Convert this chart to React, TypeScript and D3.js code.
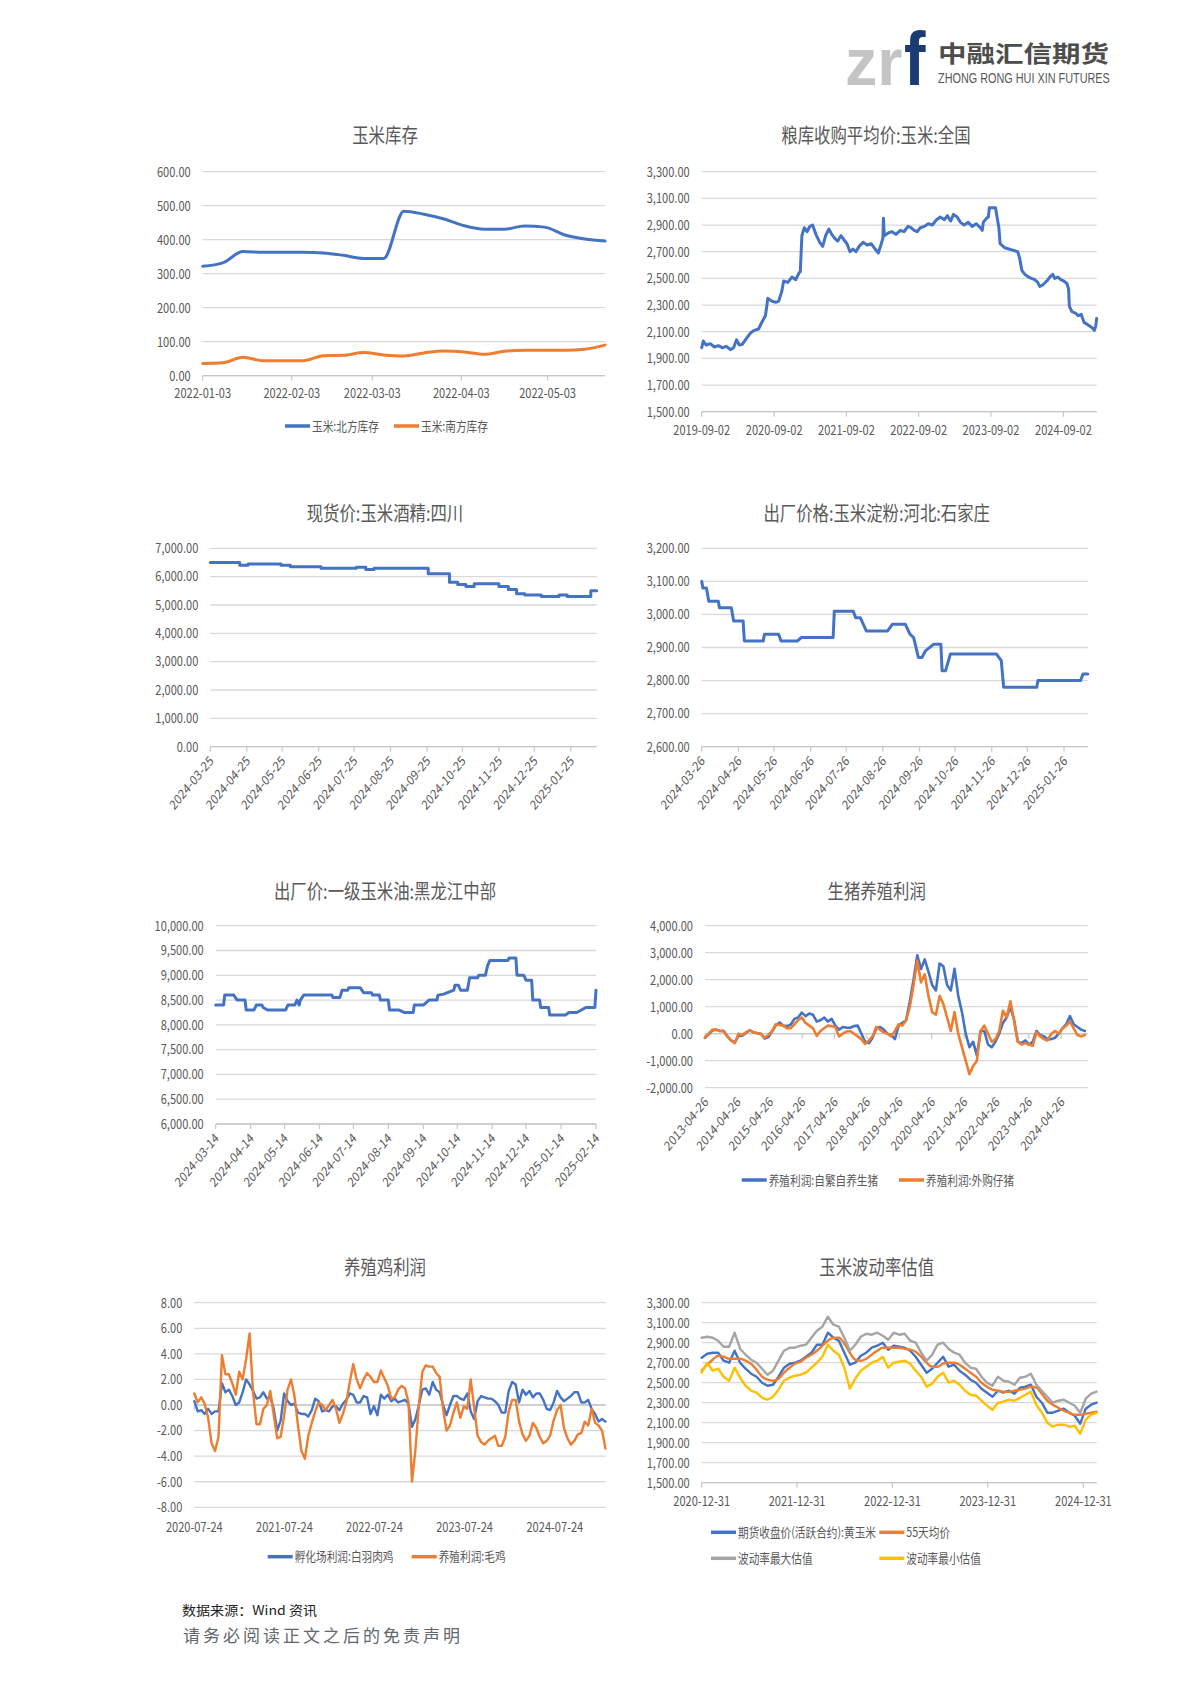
import * as React from 'react';
import * as d3 from 'd3';

// ---- data: 玉米库存 (weekly from 2022-01-03)
const stockStart = '2022-01-03';
const northStock = [322, 332, 365, 363, 363, 363, 361, 354, 345, 345, 484, 475, 461, 441, 431, 431, 440, 437, 414, 402, 396];
const southStock = [36, 38, 54, 44, 44, 44, 59, 60, 68, 61, 58, 67, 73, 70, 63, 72, 75, 75, 75, 78, 90];
const stockTicks = ['2022-01-03', '2022-02-03', '2022-03-03', '2022-04-03', '2022-05-03'];

// ---- 粮库收购平均价:玉米:全国
const grainPrice: [string, number][] = [
  ['2019-09-02', 1980], ['2019-09-10', 2030], ['2019-09-25', 2000], ['2019-10-15', 2010], ['2019-11-05', 1985],
  ['2019-11-25', 1995], ['2019-12-15', 1980], ['2020-01-05', 1990], ['2020-01-25', 1965], ['2020-02-10', 1980],
  ['2020-02-25', 2040], ['2020-03-10', 2000], ['2020-03-25', 2005], ['2020-04-15', 2050], ['2020-05-05', 2090],
  ['2020-05-25', 2110], ['2020-06-15', 2120], ['2020-07-05', 2180], ['2020-07-20', 2220], ['2020-08-01', 2350],
  ['2020-08-20', 2330], ['2020-09-10', 2320], ['2020-09-25', 2330], ['2020-10-10', 2400], ['2020-10-20', 2480],
  ['2020-11-10', 2470], ['2020-12-01', 2510], ['2020-12-20', 2490], ['2021-01-05', 2540], ['2021-01-12', 2550],
  ['2021-01-20', 2820], ['2021-02-01', 2880], ['2021-02-15', 2850], ['2021-03-01', 2890], ['2021-03-15', 2900],
  ['2021-04-01', 2830], ['2021-04-20', 2770], ['2021-05-05', 2740], ['2021-05-20', 2820], ['2021-06-05', 2870],
  ['2021-06-20', 2830], ['2021-07-05', 2800], ['2021-07-20', 2780], ['2021-08-05', 2820], ['2021-08-20', 2790],
  ['2021-09-05', 2760], ['2021-09-20', 2700], ['2021-10-05', 2720], ['2021-10-20', 2700], ['2021-11-05', 2740],
  ['2021-11-25', 2770], ['2021-12-15', 2750], ['2022-01-05', 2760], ['2022-01-25', 2720], ['2022-02-10', 2690],
  ['2022-02-25', 2760], ['2022-03-05', 2800], ['2022-03-08', 2950], ['2022-03-12', 2820], ['2022-04-01', 2840],
  ['2022-04-20', 2850], ['2022-05-10', 2830], ['2022-06-01', 2860], ['2022-06-20', 2850], ['2022-07-10', 2890],
  ['2022-07-25', 2880], ['2022-08-10', 2860], ['2022-08-25', 2850], ['2022-09-10', 2880], ['2022-10-01', 2890],
  ['2022-10-20', 2910], ['2022-11-10', 2900], ['2022-12-01', 2940], ['2022-12-20', 2960], ['2023-01-10', 2940],
  ['2023-01-25', 2970], ['2023-02-10', 2930], ['2023-02-25', 2980], ['2023-03-15', 2960], ['2023-04-01', 2920],
  ['2023-04-20', 2900], ['2023-05-10', 2920], ['2023-05-30', 2890], ['2023-06-20', 2910], ['2023-07-10', 2880],
  ['2023-07-20', 2860], ['2023-07-25', 2920], ['2023-08-10', 2950], ['2023-08-20', 2960], ['2023-08-25', 3030],
  ['2023-09-25', 3030], ['2023-10-05', 2940], ['2023-10-12', 2880], ['2023-10-18', 2760], ['2023-11-10', 2730],
  ['2023-12-01', 2720], ['2023-12-25', 2710], ['2024-01-15', 2700], ['2024-01-25', 2650], ['2024-02-05', 2560],
  ['2024-02-20', 2530], ['2024-03-10', 2510], ['2024-03-25', 2500], ['2024-04-10', 2490], ['2024-04-25', 2470],
  ['2024-05-05', 2440], ['2024-05-20', 2450], ['2024-06-10', 2480], ['2024-06-25', 2510], ['2024-07-10', 2530],
  ['2024-07-20', 2500], ['2024-08-05', 2510], ['2024-08-20', 2490], ['2024-09-05', 2480], ['2024-09-20', 2460],
  ['2024-09-28', 2420], ['2024-10-02', 2290], ['2024-10-15', 2250], ['2024-11-01', 2240], ['2024-11-15', 2220],
  ['2024-12-01', 2230], ['2024-12-15', 2170], ['2025-01-05', 2150], ['2025-01-25', 2130], ['2025-02-05', 2110],
  ['2025-02-12', 2140], ['2025-02-17', 2200],
];
const grainTicks = ['2019-09-02', '2020-09-02', '2021-09-02', '2022-09-02', '2023-09-02', '2024-09-02'];

// ---- 现货价:玉米酒精:四川 (step changes)
const alcoholPrice: [string, number][] = [
  ['2024-03-25', 6500], ['2024-04-19', 6400], ['2024-04-26', 6450], ['2024-05-24', 6400], ['2024-06-01', 6350],
  ['2024-06-27', 6300], ['2024-07-27', 6330], ['2024-08-04', 6250], ['2024-08-11', 6300], ['2024-09-26', 6100],
  ['2024-10-14', 5800], ['2024-10-21', 5720], ['2024-10-28', 5650], ['2024-11-04', 5750], ['2024-11-25', 5650],
  ['2024-12-03', 5550], ['2024-12-10', 5400], ['2024-12-17', 5350], ['2024-12-31', 5300], ['2025-01-15', 5350],
  ['2025-01-22', 5300], ['2025-02-11', 5500], ['2025-02-16', 5500],
];
const alcoholTicks = ['2024-03-25', '2024-04-25', '2024-05-25', '2024-06-25', '2024-07-25', '2024-08-25',
  '2024-09-25', '2024-10-25', '2024-11-25', '2024-12-25', '2025-01-25'];

// ---- 出厂价格:玉米淀粉:河北:石家庄
const starchPrice: [string, number][] = [
  ['2024-03-26', 3100], ['2024-03-27', 3080], ['2024-03-30', 3080], ['2024-04-01', 3040], ['2024-04-09', 3040],
  ['2024-04-10', 3020], ['2024-04-20', 3020], ['2024-04-22', 2980], ['2024-04-30', 2980], ['2024-05-01', 2920],
  ['2024-05-17', 2920], ['2024-05-18', 2940], ['2024-05-30', 2940], ['2024-06-01', 2920], ['2024-06-15', 2920],
  ['2024-06-18', 2930], ['2024-07-15', 2930], ['2024-07-16', 3010], ['2024-08-01', 3010], ['2024-08-03', 2990],
  ['2024-08-07', 2990], ['2024-08-12', 2950], ['2024-08-30', 2950], ['2024-09-03', 2970], ['2024-09-14', 2970],
  ['2024-09-18', 2940], ['2024-09-21', 2930], ['2024-09-25', 2870], ['2024-09-28', 2870], ['2024-10-01', 2890],
  ['2024-10-08', 2910], ['2024-10-14', 2910], ['2024-10-15', 2830], ['2024-10-18', 2830], ['2024-10-22', 2880],
  ['2024-11-30', 2880], ['2024-12-04', 2860], ['2024-12-06', 2780], ['2025-01-03', 2780], ['2025-01-04', 2800],
  ['2025-02-09', 2800], ['2025-02-11', 2820], ['2025-02-15', 2820],
];
const starchTicks = ['2024-03-26', '2024-04-26', '2024-05-26', '2024-06-26', '2024-07-26', '2024-08-26',
  '2024-09-26', '2024-10-26', '2024-11-26', '2024-12-26', '2025-01-26'];

// ---- 出厂价:一级玉米油:黑龙江中部
const oilPrice: [string, number][] = [
  ['2024-03-14', 8400], ['2024-03-21', 8400], ['2024-03-22', 8600], ['2024-03-30', 8600], ['2024-04-02', 8500],
  ['2024-04-09', 8500], ['2024-04-10', 8300], ['2024-04-17', 8300], ['2024-04-19', 8400], ['2024-04-24', 8400],
  ['2024-04-25', 8350], ['2024-04-29', 8300], ['2024-05-15', 8300], ['2024-05-17', 8400], ['2024-05-23', 8400],
  ['2024-05-25', 8500], ['2024-05-27', 8400], ['2024-05-28', 8500], ['2024-05-31', 8600], ['2024-06-25', 8600],
  ['2024-06-26', 8550], ['2024-07-02', 8550], ['2024-07-04', 8700], ['2024-07-09', 8700], ['2024-07-10', 8750],
  ['2024-07-20', 8750], ['2024-07-23', 8650], ['2024-07-30', 8650], ['2024-07-31', 8600], ['2024-08-06', 8600],
  ['2024-08-07', 8500], ['2024-08-14', 8500], ['2024-08-15', 8300], ['2024-08-23', 8300], ['2024-08-28', 8250],
  ['2024-09-05', 8250], ['2024-09-06', 8400], ['2024-09-14', 8400], ['2024-09-19', 8500], ['2024-09-26', 8500],
  ['2024-09-27', 8600], ['2024-10-02', 8620], ['2024-10-11', 8700], ['2024-10-12', 8800], ['2024-10-15', 8800],
  ['2024-10-17', 8700], ['2024-10-23', 8700], ['2024-10-25', 8950], ['2024-11-01', 8950], ['2024-11-02', 9000],
  ['2024-11-08', 9000], ['2024-11-10', 9200], ['2024-11-12', 9300], ['2024-11-28', 9300], ['2024-11-29', 9350],
  ['2024-12-05', 9350], ['2024-12-06', 9000], ['2024-12-12', 9000], ['2024-12-14', 8900], ['2024-12-19', 8900],
  ['2024-12-20', 8500], ['2024-12-26', 8500], ['2024-12-27', 8350], ['2025-01-03', 8350], ['2025-01-04', 8200],
  ['2025-01-18', 8200], ['2025-01-21', 8250], ['2025-01-28', 8250], ['2025-02-05', 8350], ['2025-02-13', 8350],
  ['2025-02-14', 8700],
];
const oilTicks = ['2024-03-14', '2024-04-14', '2024-05-14', '2024-06-14', '2024-07-14', '2024-08-14',
  '2024-09-14', '2024-10-14', '2024-11-14', '2024-12-14', '2025-01-14', '2025-02-14'];

// ---- 生猪养殖利润 (every 42 days from 2013-04-26)
const hogStart = '2013-04-26';
const hogSelf = [
  -150, -20, 120, 150, 100, 110, -100, -250, -320, -80,
  -70, 30, 130, 50, 20, 0, -180, -120, 80, 300,
  420, 300, 280, 330, 550, 600, 780, 650, 750, 700,
  450, 500, 600, 450, 550, 300, 150, 250, 220, 220,
  280, 300, 0, -300, -350, -150, 200, 250, 150, 0,
  -50, -200, 300, 400, 500, 1200, 2000, 2900, 2400, 2750,
  2300, 1800, 1600, 2600, 2500, 1800, 1600, 2400, 1400, 800,
  0, -500, -300, -800, 100, 100, -400, -500, -300, 0,
  400, 600, 1000, 500, -300, -350, -250, -400, -300, 100,
  -50, -100, -200, -200, -150, 0, 200, 350, 650, 350,
  250, 150, 100,
];
const hogBought = [
  -150, 0, 150, 150, 100, 100, -100, -250, -350, 0,
  -50, 50, 120, 50, 20, 0, -150, -50, 100, 350,
  320, 300, 200, 200, 350, 500, 600, 400, 300, 200,
  -80, 100, 200, 300, 280, 250, -100, 0, 80, 100,
  0, -100, -200, -380, -250, -100, 250, 150, 50, 0,
  -100, 100, 350, 300, 500, 1000, 1800, 2700, 1900, 2200,
  1400, 800, 700, 1400, 1100, 600, 100, 800, 0, -500,
  -1000, -1500, -1200, -1000, 100, 300, 0, -300, -200, 100,
  850, 600, 1200, 500, -300, -400, -350, -400, -450, 50,
  -100, -200, -250, 0, 100, 0, 200, 300, 450, 200,
  -50, -100, -50,
];
const hogTicks = ['2013-04-26', '2014-04-26', '2015-04-26', '2016-04-26', '2017-04-26', '2018-04-26',
  '2019-04-26', '2020-04-26', '2021-04-26', '2022-04-26', '2023-04-26', '2024-04-26'];

// ---- 养殖鸡利润 (every 14 days from 2020-07-24)
const chickStart = '2020-07-24';
const hatcheryProfit = [
  0.3, -0.5, -0.4, -0.7, -0.3, -0.7, -0.5, -0.5, 1.7, 1.0,
  1.2, 0.7, 0.0, 0.2, 1.0, 2.0, 1.6, 1.1, 0.5, 0.6,
  1.0, 0.5, 0.6, -0.3, -2.0, -1.2, 0.9, 0.3, 0.0, 0.1,
  -0.6, -0.7, -0.7, -0.9, -0.4, 0.5, 0.3, -0.5, -0.4, -0.5,
  -0.1, -0.1, -0.4, 0.1, 0.4, 0.9, 0.8, 0.2, 0.2, 0.7,
  0.6, -0.7, -0.1, -0.8, 0.8, 0.5, 0.8, 0.3, 0.5, 0.2,
  0.3, 0.4, 0.1, -1.7, -1.1, 0.0, 1.2, 1.3, 0.8, 1.8,
  1.2, 1.0, 0.0, -0.8, 0.0, 0.7, 0.7, 0.5, 0.4, 0.9,
  -0.5, -1.1, 0.3, 0.7, 0.6, 0.5, 0.5, 0.3, 0.0, -0.6,
  -0.6, 1.1, 1.8, 1.6, 0.2, 1.2, 0.8, 1.1, 0.6, 0.9,
  0.9, 0.4, -0.3, -0.4, 0.2, 1.1, 0.6, 0.3, 0.5, 0.7,
  1.0, 1.0, 0.2, 0.2, 0.4, -0.3, -0.7, -1.3, -1.1, -1.3,
];
const broilerProfit = [
  0.9, 0.2, 0.6, 0.1, -1.0, -3.0, -3.6, -2.5, 3.9, 2.4,
  2.4, 1.7, 0.8, 2.6, 2.0, 3.6, 5.6, 1.0, -1.5, -1.5,
  -0.3, 0.0, 1.1, -0.8, -2.6, -2.5, -0.8, 1.2, 2.0, 0.7,
  -1.6, -3.6, -4.2, -2.4, -1.4, -0.5, 0.2, 0.0, -0.4, 0.0,
  0.4, -0.3, -1.4, -0.7, 0.2, 1.8, 3.2, 2.0, 1.3, 2.0,
  2.5, 2.2, 1.8, 1.8, 2.7, 2.1, 1.5, 0.5, 0.6, 1.2,
  1.5, 1.3, 0.2, -6.0, -3.5, 0.0, 2.6, 3.1, 3.0, 3.0,
  2.5, 2.2, -0.3, -2.0, -1.6, -0.6, 0.2, -1.0, -0.1, -0.3,
  2.0, -0.2, -2.4, -2.9, -3.1, -2.8, -2.6, -2.4, -3.2, -3.2,
  -2.5, -0.5, 0.4, 0.4, -1.3, -2.3, -2.8, -2.4, -1.4, -1.8,
  -2.5, -3.0, -2.8, -2.4, -1.2, -0.4, 0.0, -1.8, -2.6, -3.1,
  -2.8, -2.3, -2.2, -1.3, -1.6, -0.3, -1.4, -1.6, -2.0, -3.4,
];
const chickTicks = ['2020-07-24', '2021-07-24', '2022-07-24', '2023-07-24', '2024-07-24'];

// ---- 玉米波动率估值 (every 21 days from 2020-12-31)
const volStart = '2020-12-31';
const cornFutures = [
  2750, 2790, 2800, 2800, 2720, 2700, 2820, 2700, 2640, 2590,
  2560, 2500, 2470, 2480, 2560, 2650, 2690, 2700, 2720, 2760,
  2800, 2880, 2880, 3000, 2950, 2920, 2800, 2680, 2700, 2770,
  2800, 2850, 2870, 2900, 2830, 2870, 2860, 2850, 2820, 2760,
  2680, 2600, 2640, 2700, 2760, 2660, 2680, 2620, 2580, 2530,
  2500, 2440, 2400, 2360, 2420, 2400, 2420, 2390, 2450, 2460,
  2480, 2360, 2300, 2200, 2200, 2220, 2240, 2200, 2170, 2090,
  2240, 2280, 2300,
];
const cornMa55 = [
  2620, 2680, 2730, 2770, 2760, 2740, 2740, 2740, 2720, 2690,
  2630, 2560, 2530, 2520, 2540, 2600, 2650, 2690, 2710, 2750,
  2780, 2820, 2870, 2920, 2950, 2950, 2890, 2800, 2730, 2720,
  2740, 2780, 2820, 2850, 2850, 2850, 2850, 2840, 2830, 2810,
  2760, 2700, 2660, 2660, 2690, 2700, 2700, 2680, 2640, 2600,
  2560, 2500, 2460, 2430, 2420, 2410, 2410, 2420, 2430, 2440,
  2460, 2450, 2390, 2320, 2280, 2250, 2220, 2200, 2180, 2180,
  2190, 2200, 2210,
];
const volMax = [
  2950, 2960, 2950, 2920, 2860, 2860, 3000, 2840, 2780, 2730,
  2700, 2640, 2580, 2620, 2720, 2820, 2850, 2850, 2870, 2880,
  2950, 3020, 3060, 3160, 3080, 3060, 2950, 2820, 2880, 2960,
  2990, 2980, 3000, 2970, 2930, 3000, 2980, 2990, 2920, 2900,
  2800, 2720, 2780, 2880, 2900, 2840, 2800, 2780, 2700, 2650,
  2640, 2560, 2500, 2470, 2560, 2520, 2510, 2480, 2550, 2560,
  2590, 2480, 2420, 2360, 2300, 2320, 2330, 2300, 2270, 2200,
  2340, 2390, 2410,
];
const volMin = [
  2600, 2700, 2620, 2640, 2560, 2520, 2650, 2550, 2470, 2420,
  2400, 2350, 2330, 2360, 2430, 2520, 2550, 2570, 2580, 2600,
  2650, 2700, 2760, 2880, 2820, 2780, 2650, 2440, 2540, 2620,
  2660, 2700, 2720, 2760, 2650, 2700, 2710, 2720, 2690, 2620,
  2560, 2460, 2490, 2560, 2600, 2500, 2520, 2480, 2420, 2380,
  2370, 2320, 2270, 2230, 2300, 2310, 2330, 2320, 2350, 2380,
  2410, 2280, 2200, 2100, 2060, 2080, 2080, 2060, 2070, 1990,
  2130, 2180, 2200,
];
const volTicks = ['2020-12-31', '2021-12-31', '2022-12-31', '2023-12-31', '2024-12-31'];

// ---- styles
const BLUE = '#4472C4';
const ORANGE = '#ED7D31';
const GRAY = '#A5A5A5';
const YELLOW = '#FFC000';
const TEXT = '#595959';
const GRID = '#D9D9D9';
const FONT = '"Noto Sans CJK SC", "Noto Sans", sans-serif';
const LATIN = '"Liberation Sans", Arial, sans-serif';
const SX = 0.82; // the whole page is slightly squeezed horizontally

const parse = d3.timeParse('%Y-%m-%d');
const toDate = (s: string) => parse(s) as Date;
const fmt = d3.formatLocale({ decimal: '.', thousands: ',', grouping: [3], currency: ['', ''], minus: '-' }).format(',.2f');

type Pt = [Date, number];
const pairs = (rows: [string, number][]): Pt[] => rows.map(([d, v]) => [toDate(d), v]);
const stepped = (start: string, days: number, values: number[]): Pt[] =>
  values.map((v, i) => [d3.timeDay.offset(toDate(start), i * days), v]);

function T(props: {
  x: number; y: number; children: React.ReactNode; size?: number; anchor?: string;
  color?: string; rotate?: number; sx?: number; weight?: number; family?: string;
}) {
  const { x, y, children, size = 13.5, anchor = 'middle', color = TEXT, rotate = 0, sx = SX, weight = 400, family = FONT } = props;
  const tf = `translate(${x},${y}) scale(${sx},1)` + (rotate ? ` rotate(${rotate})` : '');
  return (
    <text transform={tf} fontSize={size} textAnchor={anchor as any} fill={color} fontFamily={family} fontWeight={weight}>
      {children}
    </text>
  );
}

interface Series { color: string; pts: Pt[]; width?: number; curve?: d3.CurveFactory }
interface LegendItem { color: string; label: string; x: number; y: number }
interface ChartProps {
  title: string; tx: number; ty: number;
  x0: number; x1: number; yTop: number; yBot: number;
  yMin: number; yMax: number; yStep: number;
  xFrom: string; xTo: string; xTicks: string[];
  labelMode: 'h' | 'r'; labelY?: number;
  axisValue?: number;
  series: Series[];
  legend?: LegendItem[];
}

function LineChart(p: ChartProps) {
  const x = d3.scaleTime().domain([toDate(p.xFrom), toDate(p.xTo)]).range([p.x0, p.x1]);
  const y = d3.scaleLinear().domain([p.yMin, p.yMax]).range([p.yBot, p.yTop]);
  const yTicks = d3.range(p.yMin, p.yMax + p.yStep / 2, p.yStep);
  const axisY = y(p.axisValue ?? p.yMin);

  return (
    <g>
      <T x={p.tx} y={p.ty} size={20}>{p.title}</T>

      {yTicks.map(v => (
        <line key={'g' + v} x1={p.x0} x2={p.x1} y1={y(v)} y2={y(v)} stroke={GRID} strokeWidth={1.3} />
      ))}
      {yTicks.map(v => (
        <T key={'yl' + v} x={p.x0 - 12} y={y(v) + 4.8} anchor="end">{fmt(v)}</T>
      ))}

      <line x1={p.x0} x2={p.x1} y1={axisY} y2={axisY} stroke="#C8C8C8" strokeWidth={1.3} />
      {p.xTicks.map(d => (
        <line key={'tm' + d} x1={x(toDate(d))} x2={x(toDate(d))} y1={axisY} y2={axisY + 5} stroke="#C8C8C8" strokeWidth={1.2} />
      ))}

      {p.xTicks.map(d =>
        p.labelMode === 'h' ? (
          <T key={'xl' + d} x={x(toDate(d))} y={p.labelY ?? p.yBot + 22}>{d}</T>
        ) : (
          <T key={'xl' + d} x={x(toDate(d)) + 4} y={p.yBot + 15} anchor="end" rotate={-45}>{d}</T>
        )
      )}

      {p.series.map((s, i) => {
        const line = d3.line<Pt>()
          .x(d => x(d[0]))
          .y(d => y(d[1]))
          .curve(s.curve ?? d3.curveLinear);
        return (
          <path key={'s' + i} d={line(s.pts) ?? ''} fill="none" stroke={s.color}
            strokeWidth={s.width ?? 2.5} strokeLinejoin="round" strokeLinecap="round" />
        );
      })}

      {(p.legend ?? []).map((l, i) => (
        <g key={'lg' + i}>
          <line x1={l.x} x2={l.x + 25} y1={l.y} y2={l.y} stroke={l.color} strokeWidth={3.5} />
          <T x={l.x + 27} y={l.y + 4.5} size={13} anchor="start">{l.label}</T>
        </g>
      ))}
    </g>
  );
}

function Logo() {
  return (
    <g>
      <T x={845} y={85} size={66} weight={700} color="#C4C4C4" anchor="start" sx={0.98} family={LATIN}>zr</T>
      <T x={904} y={85} size={76} weight={700} color="#1C3B74" anchor="start" sx={0.85} family={LATIN}>f</T>
      <T x={938} y={62} size={23} weight={700} color="#4D4D4D" anchor="start" sx={1.24}>中融汇信期货</T>
      <T x={938} y={82.5} size={14} color="#5A5A5A" anchor="start" sx={0.776} family={LATIN}>ZHONG RONG HUI XIN FUTURES</T>
    </g>
  );
}

export default function App() {
  const smooth = d3.curveMonotoneX;
  return (
    <svg width={1190} height={1683} viewBox="0 0 1190 1683"
      style={{ position: 'absolute', left: 0, top: 0, background: '#fff' }}>
      <rect width={1190} height={1683} fill="#fff" />
      <Logo />

      <LineChart title="玉米库存" tx={385} ty={143}
        x0={202.7} x1={605} yTop={171.7} yBot={375.7} yMin={0} yMax={600} yStep={100}
        xFrom="2022-01-03" xTo="2022-05-23" xTicks={stockTicks} labelMode="h" labelY={398}
        series={[
          { color: BLUE, pts: stepped(stockStart, 7, northStock), width: 3, curve: smooth },
          { color: ORANGE, pts: stepped(stockStart, 7, southStock), width: 3, curve: smooth },
        ]}
        legend={[
          { color: BLUE, label: '玉米:北方库存', x: 285, y: 426 },
          { color: ORANGE, label: '玉米:南方库存', x: 394, y: 426 },
        ]} />

      <LineChart title="粮库收购平均价:玉米:全国" tx={876} ty={143}
        x0={701.7} x1={1096.7} yTop={171.7} yBot={411.7} yMin={1500} yMax={3300} yStep={200}
        xFrom="2019-09-02" xTo="2025-02-17" xTicks={grainTicks} labelMode="h" labelY={435}
        series={[{ color: BLUE, pts: pairs(grainPrice), width: 3 }]} />

      <LineChart title="现货价:玉米酒精:四川" tx={385} ty={521}
        x0={210.3} x1={596.7} yTop={548.3} yBot={746.7} yMin={0} yMax={7000} yStep={1000}
        xFrom="2024-03-25" xTo="2025-02-16" xTicks={alcoholTicks} labelMode="r"
        series={[{ color: BLUE, pts: pairs(alcoholPrice), width: 3, curve: d3.curveStepAfter }]} />

      <LineChart title="出厂价格:玉米淀粉:河北:石家庄" tx={876.7} ty={521}
        x0={701.7} x1={1087.7} yTop={548.3} yBot={746.7} yMin={2600} yMax={3200} yStep={100}
        xFrom="2024-03-26" xTo="2025-02-15" xTicks={starchTicks} labelMode="r"
        series={[{ color: BLUE, pts: pairs(starchPrice), width: 3 }]} />

      <LineChart title="出厂价:一级玉米油:黑龙江中部" tx={385} ty={899}
        x0={215.7} x1={596} yTop={925.7} yBot={1124} yMin={6000} yMax={10000} yStep={500}
        xFrom="2024-03-14" xTo="2025-02-14" xTicks={oilTicks} labelMode="r"
        series={[{ color: BLUE, pts: pairs(oilPrice), width: 3 }]} />

      <LineChart title="生猪养殖利润" tx={876.7} ty={899}
        x0={705} x1={1087.7} yTop={925.7} yBot={1087.7} yMin={-2000} yMax={4000} yStep={1000}
        xFrom="2013-04-26" xTo="2025-02-18" xTicks={hogTicks} labelMode="r" axisValue={0}
        series={[
          { color: BLUE, pts: stepped(hogStart, 42, hogSelf), width: 2.6 },
          { color: ORANGE, pts: stepped(hogStart, 42, hogBought), width: 2.6 },
        ]}
        legend={[
          { color: BLUE, label: '养殖利润:自繁自养生猪', x: 741.7, y: 1180 },
          { color: ORANGE, label: '养殖利润:外购仔猪', x: 899, y: 1180 },
        ]} />

      <LineChart title="养殖鸡利润" tx={385} ty={1275}
        x0={194.3} x1={605.7} yTop={1302.7} yBot={1507.3} yMin={-8} yMax={8} yStep={2}
        xFrom="2020-07-24" xTo="2025-02-15" xTicks={chickTicks} labelMode="h" labelY={1531.5} axisValue={0}
        series={[
          { color: BLUE, pts: stepped(chickStart, 14, hatcheryProfit), width: 2.4 },
          { color: ORANGE, pts: stepped(chickStart, 14, broilerProfit), width: 2.4 },
        ]}
        legend={[
          { color: BLUE, label: '孵化场利润:白羽肉鸡', x: 267.7, y: 1556.7 },
          { color: ORANGE, label: '养殖利润:毛鸡', x: 411.7, y: 1556.7 },
        ]} />

      <LineChart title="玉米波动率估值" tx={876.7} ty={1275}
        x0={701.7} x1={1096.7} yTop={1302.7} yBot={1482.7} yMin={1500} yMax={3300} yStep={200}
        xFrom="2020-12-31" xTo="2025-02-20" xTicks={volTicks} labelMode="h" labelY={1506}
        series={[
          { color: BLUE, pts: stepped(volStart, 21, cornFutures), width: 2.4 },
          { color: ORANGE, pts: stepped(volStart, 21, cornMa55), width: 2.4, curve: smooth },
          { color: GRAY, pts: stepped(volStart, 21, volMax), width: 2.4 },
          { color: YELLOW, pts: stepped(volStart, 21, volMin), width: 2.4 },
        ]}
        legend={[
          { color: BLUE, label: '期货收盘价(活跃合约):黄玉米', x: 711, y: 1532.3 },
          { color: ORANGE, label: '55天均价', x: 879.3, y: 1532.3 },
          { color: GRAY, label: '波动率最大估值', x: 711, y: 1558.3 },
          { color: YELLOW, label: '波动率最小估值', x: 879.3, y: 1558.3 },
        ]} />

      <text x={182} y={1615} fontFamily={FONT} fontSize={13} fill="#222"
        textLength={135} lengthAdjust="spacingAndGlyphs">数据来源：Wind 资讯</text>
      <text x={183} y={1642} fontFamily={FONT} fontSize={17} fill="#62676E"
        textLength={277} lengthAdjust="spacing">请务必阅读正文之后的免责声明</text>
    </svg>
  );
}
